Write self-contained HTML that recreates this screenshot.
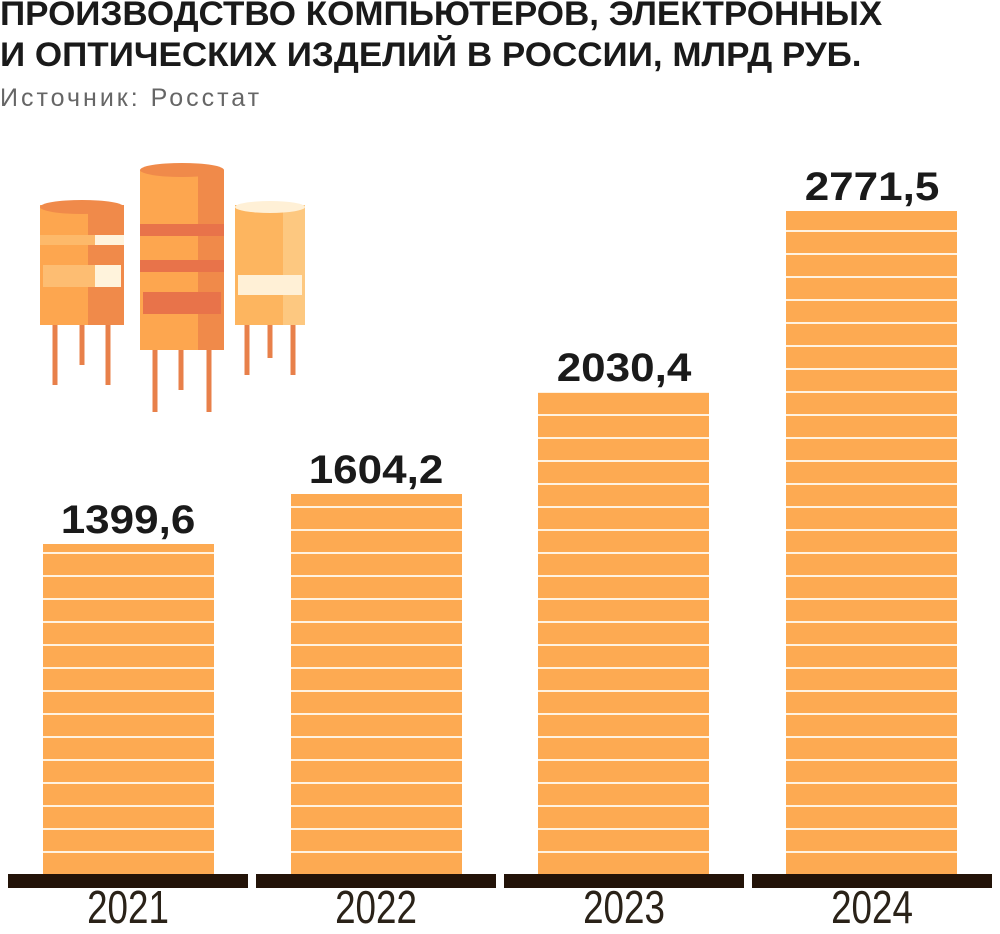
<!DOCTYPE html>
<html><head><meta charset="utf-8"><style>
body{margin:0;width:1000px;height:926px;background:#fff;position:relative;overflow:hidden;font-family:"Liberation Sans",sans-serif}
.t{position:absolute;left:0;white-space:nowrap;transform-origin:0 0}
.bar{position:absolute;background:repeating-linear-gradient(to top,#fdaa52 0,#fdaa52 21px,#fff2e0 21px,#fff2e0 23px);background-position:0 0}
.base{position:absolute;top:874px;height:14px;background:#231308;width:240px}
.v{position:absolute;width:240px;text-align:center;font-weight:bold;font-size:40px;color:#1a1a1a;transform:scaleX(1.1)}
.y{position:absolute;top:880px;width:240px;text-align:center;font-size:46px;color:#2a2218;transform:scaleX(0.8);font-weight:normal}
</style></head><body>
<div class="t" style="top:-5px;font-weight:bold;font-size:34px;color:#1a1a1a;transform:scaleX(1.03)">ПРОИЗВОДСТВО КОМПЬЮТЕРОВ, ЭЛЕКТРОННЫХ</div>
<div class="t" style="top:36px;font-weight:bold;font-size:34px;color:#1a1a1a;transform:scaleX(1.03)">И ОПТИЧЕСКИХ ИЗДЕЛИЙ В РОССИИ, МЛРД РУБ.</div>
<div class="t" style="top:84px;font-size:25px;color:#666;letter-spacing:3px">Источник: Росстат</div>

<svg style="position:absolute;left:0;top:140px" width="320" height="280">
<g stroke="#e8804a" stroke-width="5">
<line x1="55" y1="185" x2="55" y2="245"/><line x1="82" y1="185" x2="82" y2="225"/><line x1="108" y1="185" x2="108" y2="245"/>
<line x1="155" y1="210" x2="155" y2="272"/><line x1="181" y1="210" x2="181" y2="250"/><line x1="209" y1="210" x2="209" y2="272"/>
<line x1="247" y1="180" x2="247" y2="235"/><line x1="270" y1="180" x2="270" y2="218"/><line x1="293" y1="180" x2="293" y2="235"/>
</g>
<rect x="40" y="65" width="50" height="120" fill="#fda64f"/><rect x="88" y="65" width="36" height="120" fill="#f08a4a"/>
<rect x="40" y="95" width="84" height="10" fill="#fdb96a"/><rect x="95" y="95" width="29" height="10" fill="#fff3dc"/>
<rect x="43" y="125" width="78" height="22" fill="#fdbd72"/><rect x="95" y="125" width="26" height="22" fill="#fff3dc"/>
<ellipse cx="82" cy="67" rx="42" ry="7" fill="#f08a4a"/>
<rect x="140" y="30" width="60" height="180" fill="#fda64f"/><rect x="198" y="30" width="26" height="180" fill="#f08a4a"/>
<rect x="140" y="84" width="84" height="12" fill="#e8734a"/><rect x="140" y="120" width="84" height="12" fill="#e8734a"/>
<rect x="143" y="152" width="78" height="22" fill="#e8734a"/>
<ellipse cx="182" cy="30" rx="42" ry="7" fill="#f08a4a"/>
<rect x="235" y="65" width="50" height="120" fill="#fdb55f"/><rect x="283" y="65" width="22" height="120" fill="#fdc880"/>
<rect x="238" y="135" width="64" height="20" fill="#fff0d6"/>
<ellipse cx="270" cy="67" rx="35" ry="6" fill="#fff0d6"/>
</svg>

<div class="bar" style="left:43px;top:544px;width:171px;height:330px"></div>
<div class="bar" style="left:291px;top:494px;width:171px;height:380px"></div>
<div class="bar" style="left:538px;top:392px;width:171px;height:482px"></div>
<div class="bar" style="left:786px;top:211px;width:171px;height:663px"></div>

<div class="base" style="left:8px"></div><div class="base" style="left:256px"></div>
<div class="base" style="left:504px"></div><div class="base" style="left:752px"></div>

<div class="v" style="left:8px;top:498px">1399,6</div>
<div class="v" style="left:256px;top:448px">1604,2</div>
<div class="v" style="left:504px;top:346px">2030,4</div>
<div class="v" style="left:752px;top:165px">2771,5</div>

<div class="y" style="left:8px">2021</div><div class="y" style="left:256px">2022</div>
<div class="y" style="left:504px">2023</div><div class="y" style="left:752px">2024</div>
</body></html>
